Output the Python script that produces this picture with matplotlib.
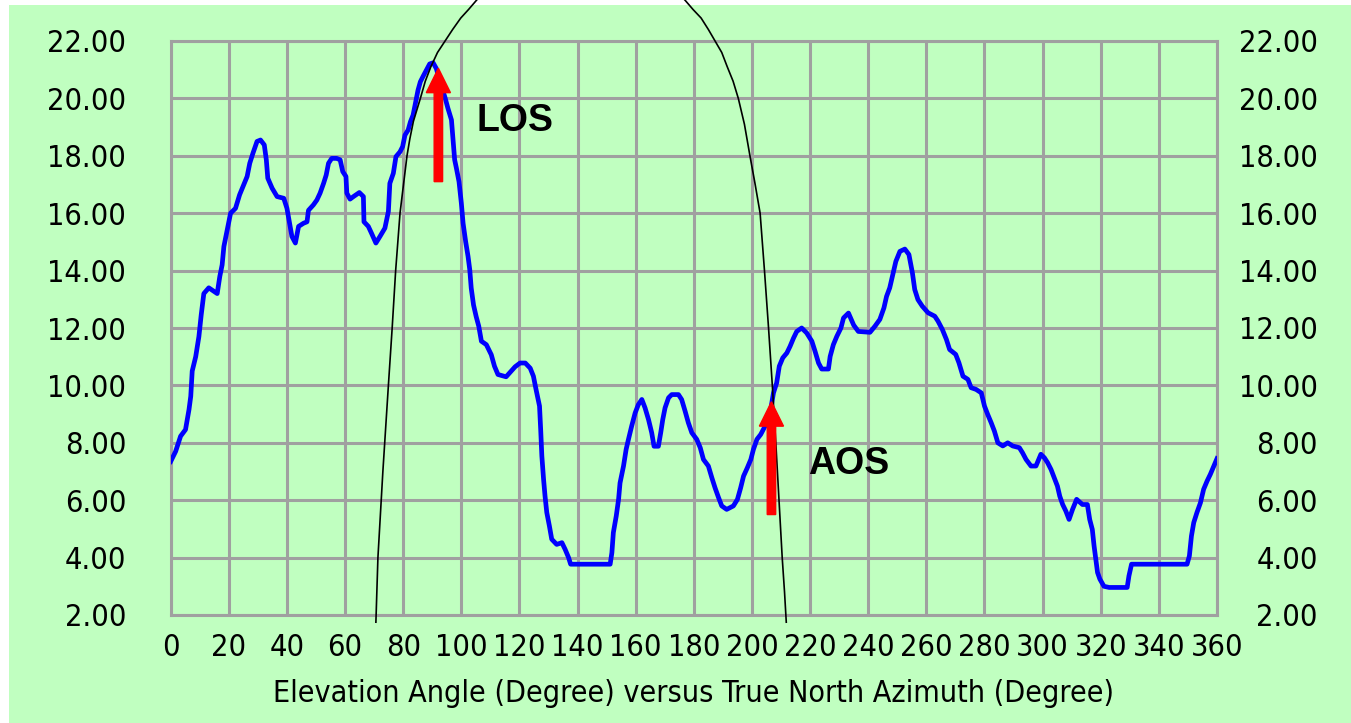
import matplotlib
matplotlib.use("Agg")
import matplotlib.pyplot as plt
import matplotlib.font_manager as fm
from matplotlib.patches import Rectangle

# terrain profile: elevation angle (deg) vs true north azimuth (deg)
azimuth = [0, 1.7, 3.4, 5.1, 6.3, 6.9, 7.4, 8.6, 9.7, 10.5, 11.4, 13.1, 16.0, 16.9, 17.7,
           18.3, 19.4, 20.6, 22.3, 23.7, 25.1, 26.3, 27.2, 28.3, 29.7, 30.9, 32.2, 32.9,
           33.4, 34.9, 36.6, 38.9, 40.0, 41.1, 41.7, 42.9, 44.0, 45.7, 46.9, 47.4, 49.1,
           50.3, 51.4, 52.6, 53.5, 54.3, 55.4, 57.1, 58.3, 59.2, 60.3, 60.6, 61.7, 62.9,
           64.9, 66.3, 66.5, 68.0, 69.1, 70.6, 72.0, 73.7, 74.9, 75.4, 76.6, 77.5, 78.9,
           79.8, 80.6, 81.7, 82.5, 83.4, 84.3, 85.1, 85.9, 86.9, 88.0, 89.1, 90.3, 91.4,
           92.8, 94.3, 95.4, 96.6, 97.1, 97.7, 98.3, 99.2, 100.0, 100.6, 101.5, 102.3,
           102.9, 103.4, 104.2, 105.1, 106.0, 106.9, 108.6, 110.3, 111.4, 112.6, 115.4,
           117.1, 118.5, 120.2, 122.0, 123.7, 124.8, 125.7, 126.9, 127.3, 127.7, 128.3,
           128.8, 129.4, 130.3, 131.1, 132.8, 134.6, 135.7, 136.9, 137.6, 151.2, 151.8,
           152.3, 153.3, 154.1, 154.6, 155.8, 156.7, 157.5, 158.6, 159.8, 160.9, 162.1,
           163.2, 164.4, 165.5, 166.3, 167.8, 168.6, 169.3, 170.1, 171.3, 172.4, 174.7,
           175.8, 177.0, 178.1, 179.3, 181.0, 182.2, 183.3, 185.0, 186.2, 187.3, 188.5,
           189.6, 191.3, 193.6, 195.0, 196.1, 197.1, 198.4, 199.6, 200.5, 201.7, 203.0,
           204.5, 206.0, 207.4, 208.5, 209.4, 210.6, 212.0, 213.1, 214.3, 215.4, 217.1,
           218.8, 220.6, 221.7, 222.9, 224.0, 226.3, 226.9, 228.0, 229.2, 230.6, 231.5,
           233.2, 235.0, 236.6, 240.6, 242.3, 244.0, 245.4, 246.3, 247.4, 248.3, 249.5,
           250.9, 252.6, 254.0, 255.2, 256.0, 257.1, 258.6, 260.6, 262.9, 264.0, 265.5,
           266.9, 268.0, 270.1, 271.2, 272.6, 274.3, 275.4, 277.1, 278.9, 280.0, 281.1,
           282.3, 283.4, 284.6, 286.3, 288.0, 289.7, 292.0, 293.1, 294.3, 296.0, 297.7,
           299.4, 300.6, 301.7, 302.9, 304.0, 305.1, 305.9, 306.9, 308.0, 309.1, 310.3,
           311.7, 313.7, 315.4, 316.2, 317.1, 317.7, 318.3, 318.9, 319.7, 321.1, 322.9,
           329.1, 329.7, 330.6, 349.7, 350.5, 351.2, 352.0, 353.1, 354.3, 355.4, 356.6,
           357.7, 358.9, 360.0]
elevation = [7.35, 7.7, 8.23, 8.46, 9.16, 9.62, 10.5, 11.0, 11.7, 12.46, 13.2, 13.4, 13.2,
             13.8, 14.2, 14.84, 15.4, 16.0, 16.17, 16.64, 16.98, 17.28, 17.74, 18.09, 18.5,
             18.55, 18.38, 17.86, 17.22, 16.87, 16.58, 16.52, 16.17, 15.54, 15.19, 14.96,
             15.54, 15.65, 15.7, 16.1, 16.29, 16.46, 16.7, 17.04, 17.33, 17.74, 17.91,
             17.91, 17.86, 17.45, 17.28, 16.7, 16.49, 16.58, 16.72, 16.58, 15.7, 15.54,
             15.3, 14.96, 15.19, 15.48, 16.06, 17.04, 17.39, 17.97, 18.14, 18.32, 18.72,
             18.9, 19.19, 19.42, 19.88, 20.29, 20.58, 20.78, 20.99, 21.2, 21.24, 21.04,
             20.52, 20.06, 19.65, 19.25, 18.6, 17.86, 17.57, 17.1, 16.35, 15.65, 15.0,
             14.5, 14.03, 13.39, 12.8, 12.4, 12.06, 11.54, 11.42, 11.07, 10.67, 10.38,
             10.3, 10.49, 10.65, 10.78, 10.78, 10.6, 10.32, 9.86, 9.28, 8.46, 7.54, 6.72,
             6.14, 5.57, 5.1, 4.64, 4.46, 4.52, 4.29, 4.0, 3.77, 3.77, 4.17, 4.87, 5.45,
             6.03, 6.6, 7.19, 7.77, 8.12, 8.58, 9.04, 9.33, 9.51, 9.22, 8.81, 8.35, 7.88,
             7.88, 8.35, 8.81, 9.22, 9.57, 9.68, 9.68, 9.51, 9.1, 8.7, 8.35, 8.12, 7.83,
             7.42, 7.19, 6.78, 6.43, 6.09, 5.8, 5.68, 5.8, 6.03, 6.43, 6.84, 7.13, 7.42,
             7.77, 8.12, 8.29, 8.58, 8.9, 9.74, 10.09, 10.67, 10.96, 11.13, 11.36, 11.65,
             11.88, 12.0, 11.83, 11.54, 11.19, 10.78, 10.57, 10.57, 11.01, 11.42, 11.71,
             12.0, 12.35, 12.52, 12.1, 11.88, 11.85, 12.06, 12.3, 12.7, 13.1, 13.4, 13.8,
             14.32, 14.67, 14.75, 14.56, 13.92, 13.34, 12.99, 12.76, 12.53, 12.41, 12.24,
             11.95, 11.6, 11.25, 11.08, 10.79, 10.32, 10.21, 9.92, 9.86, 9.74, 9.28, 8.99,
             8.7, 8.41, 8.0, 7.89, 8.0, 7.89, 7.83, 7.65, 7.42, 7.19, 7.19, 7.6, 7.48,
             7.31, 7.07, 6.78, 6.49, 6.14, 5.85, 5.62, 5.33, 5.68, 6.03, 5.85, 5.85, 5.33,
             4.98, 4.41, 3.94, 3.48, 3.25, 3.0, 2.96, 2.96, 3.36, 3.77, 3.77, 4.06, 4.75,
             5.22, 5.57, 5.91, 6.38, 6.67, 6.9, 7.19, 7.45]

# satellite pass track (azimuth, elevation)
pass_az = [70.6, 71.3, 73.0, 74.9, 76.2, 77.4, 78.9, 80.1, 81.3, 82.3, 83.5, 84.7, 85.9,
           87.6, 89.5, 91.8, 94.4, 97.0, 99.8, 102.5, 105.3, 111.0, 118.0, 126.0, 134.0,
           141.0, 148.0, 156.0, 164.0, 171.0, 176.9, 179.7, 182.5, 185.0, 187.3, 189.6,
           191.5, 193.5, 195.3, 197.4, 199.3, 201.1, 202.8, 204.3, 205.7, 207.0, 208.2,
           209.3, 210.4, 211.2, 211.8]
pass_el = [1.75, 4.0, 7.0, 10.0, 12.0, 14.0, 16.0, 17.0, 18.0, 18.6, 19.2, 19.6, 20.0,
           20.6, 21.1, 21.6, 22.0, 22.4, 22.8, 23.1, 23.43, 24.0, 24.6, 25.1, 25.4,
           25.5, 25.4, 25.1, 24.6, 24.0, 23.43, 23.1, 22.8, 22.4, 22.0, 21.6, 21.1, 20.6,
           20.0, 19.1, 18.0, 17.0, 16.0, 14.0, 12.0, 10.0, 8.0, 6.0, 4.0, 2.8, 1.75]

# event markers
events = ["LOS", "AOS"]
event_az = [92.1, 206.7]
event_el_start = [17.1, 5.5]
event_el_tip = [21.05, 9.43]
label_az = [105.1, 219.3]
label_el = [19.2, 7.25]

x_ticks = list(range(0, 361, 20))
y_ticks = list(range(2, 23, 2))

green = "#c0ffc0"
grid_col = "#a0a0a0"

# narrow UI-like font if one is around, otherwise plain DejaVu a bit smaller
have = {(f.name, f.stretch) for f in fm.fontManager.ttflist}
names = {n for n, _ in have}
if "Liberation Sans Narrow" in names:
    tick_font = dict(family="Liberation Sans Narrow", fontsize=24)
    lab_font = dict(family="Liberation Sans Narrow", fontsize=23)
elif ("DejaVu Sans", "condensed") in have:
    tick_font = dict(family="DejaVu Sans", fontstretch="condensed", fontsize=22)
    lab_font = dict(family="DejaVu Sans", fontstretch="condensed", fontsize=21.8)
elif "Roboto Condensed" in names:
    tick_font = dict(family="Roboto Condensed", fontsize=23)
    lab_font = dict(family="Roboto Condensed", fontsize=22)
else:
    tick_font = dict(family="DejaVu Sans", fontsize=18.5)
    lab_font = dict(family="DejaVu Sans", fontsize=19.5)

fig = plt.figure(figsize=(13.51, 7.23), dpi=100, facecolor="white")
fig.patches.append(Rectangle((9 / 1351, 0), 1, 1 - 5 / 723, transform=fig.transFigure,
                             facecolor=green, edgecolor="none", zorder=-10))

ax = fig.add_axes([170.7 / 1351, 108 / 723, 1046.3 / 1351, 574 / 723])
ax.set_facecolor(green)
ax.set_xlim(0, 360)
ax.set_ylim(2, 22)
ax.set_xticks(x_ticks)
ax.set_yticks(y_ticks)
ax.set_xticklabels([str(t) for t in x_ticks], **tick_font)
ax.set_yticklabels(["%.2f" % t for t in y_ticks], **tick_font)
ax.tick_params(length=0)
ax.tick_params(axis="x", pad=13)
ax.tick_params(axis="y", pad=32)
ax.grid(True, color=grid_col, lw=2.2)
ax.set_axisbelow(True)
for s in ax.spines.values():
    s.set_color(grid_col)
    s.set_linewidth(2.2)
ax.set_xlabel("Elevation Angle (Degree) versus True North Azimuth (Degree)",
              labelpad=12, **lab_font)

ax2 = ax.twinx()
ax2.set_ylim(2, 22)
ax2.set_yticks(y_ticks)
ax2.set_yticklabels(["%.2f" % t for t in y_ticks], **tick_font)
ax2.tick_params(length=0, pad=72.5)
for tl in ax2.get_yticklabels():
    tl.set_horizontalalignment("right")
for s in ax2.spines.values():
    s.set_visible(False)

ax.plot(azimuth, elevation, color="#0000ff", lw=3.4, zorder=3)
ax.plot(pass_az, pass_el, color="black", lw=1.2, zorder=4, clip_on=False)

for i in range(len(events)):
    ax.arrow(event_az[i], event_el_start[i], 0, event_el_tip[i] - event_el_start[i],
             width=2.9, head_width=8.3, head_length=0.85, length_includes_head=True,
             color="#ff0000", zorder=5)
    ax.text(label_az[i], label_el[i], events[i], family="Liberation Sans",
            fontweight="bold", fontsize=27, ha="left", va="center", zorder=6)

fig.savefig("out.png", dpi=100, facecolor=fig.get_facecolor())
